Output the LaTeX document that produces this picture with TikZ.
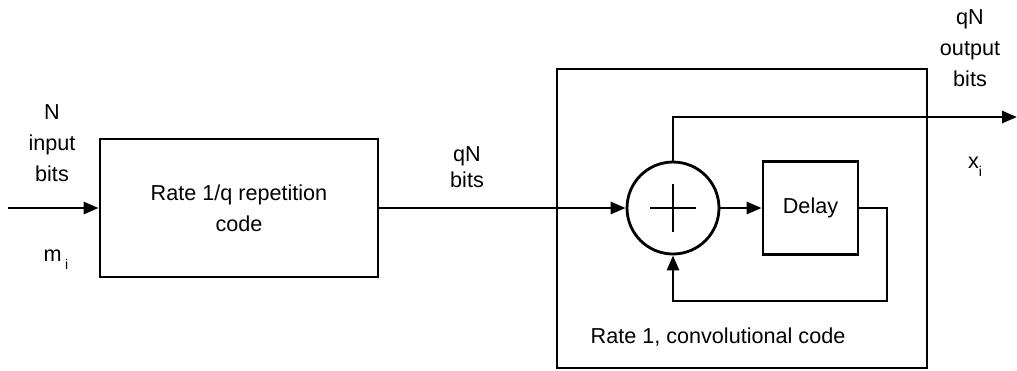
\documentclass[tikz,border=0pt]{standalone}
\usepackage{fontspec}
\setmainfont{Liberation Sans}
\usetikzlibrary{arrows.meta}

\begin{document}
\begin{tikzpicture}[
      block/.style={rectangle, draw=black, line width=1.6pt, inner sep=0pt},
      adder/.style={circle, draw=black, line width=1.6pt, minimum size=1.84cm, inner sep=0pt},
      arrow/.style={-{Triangle[length=3mm, width=2.4mm]}, line width=1.6pt},
      wire/.style={line width=1.6pt},
      lbl/.style={font=\fontsize{12.3}{17.8}\selectfont, align=center, inner sep=0pt},
      x=0.02cm, y=-0.02cm
    ]
    \useasboundingbox (0,0) rectangle (1017,370);
    % blocks
    \node[block, minimum width=5.56cm, minimum height=2.76cm, lbl] (rep) at (239,208) {Rate 1/q repetition\\code};
    \node[block, minimum width=7.4cm, minimum height=5.98cm] (conv) at (742,218.5) {};
    \node[adder] (add) at (673,208) {};
    \node[block, minimum width=1.9cm, minimum height=1.86cm, lbl] (delay) at (810.5,208) {Delay};
    \draw[wire] ([xshift=-0.46cm]add.center) -- ([xshift=0.46cm]add.center);
    \draw[wire] ([yshift=-0.48cm]add.center) -- ([yshift=0.48cm]add.center);

    % connectors
    \coordinate (in) at (8,208);
    \coordinate (fb) at (887,301);
    \coordinate (out) at (1017,117);
    \draw[arrow] (in) -- (rep.west);
    \draw[arrow] (rep.east) -- (add.west);
    \draw[arrow] (add.east) -- (delay.west);
    \draw[arrow] (delay.east) -| (fb) -| (add.south);
    \draw[arrow] (add.north) |- (out);

    % labels
    \node[lbl] (nin) at (52,143) {N\\input\\bits};
    \node[lbl] (mi) at (56,260) {m\,\raisebox{-0.7ex}{\footnotesize i}};
    \node[lbl, font=\fontsize{12.3}{15}\selectfont] (qnb) at (467,167) {qN\\bits};
    \node[lbl] (qnout) at (970,48) {qN\\output\\bits};
    \node[lbl] (xi) at (975,167) {x\raisebox{-0.7ex}{\footnotesize i}};
    \node[lbl] (convlbl) at (718,337) {Rate 1, convolutional code};
  \end{tikzpicture}
\end{document}
